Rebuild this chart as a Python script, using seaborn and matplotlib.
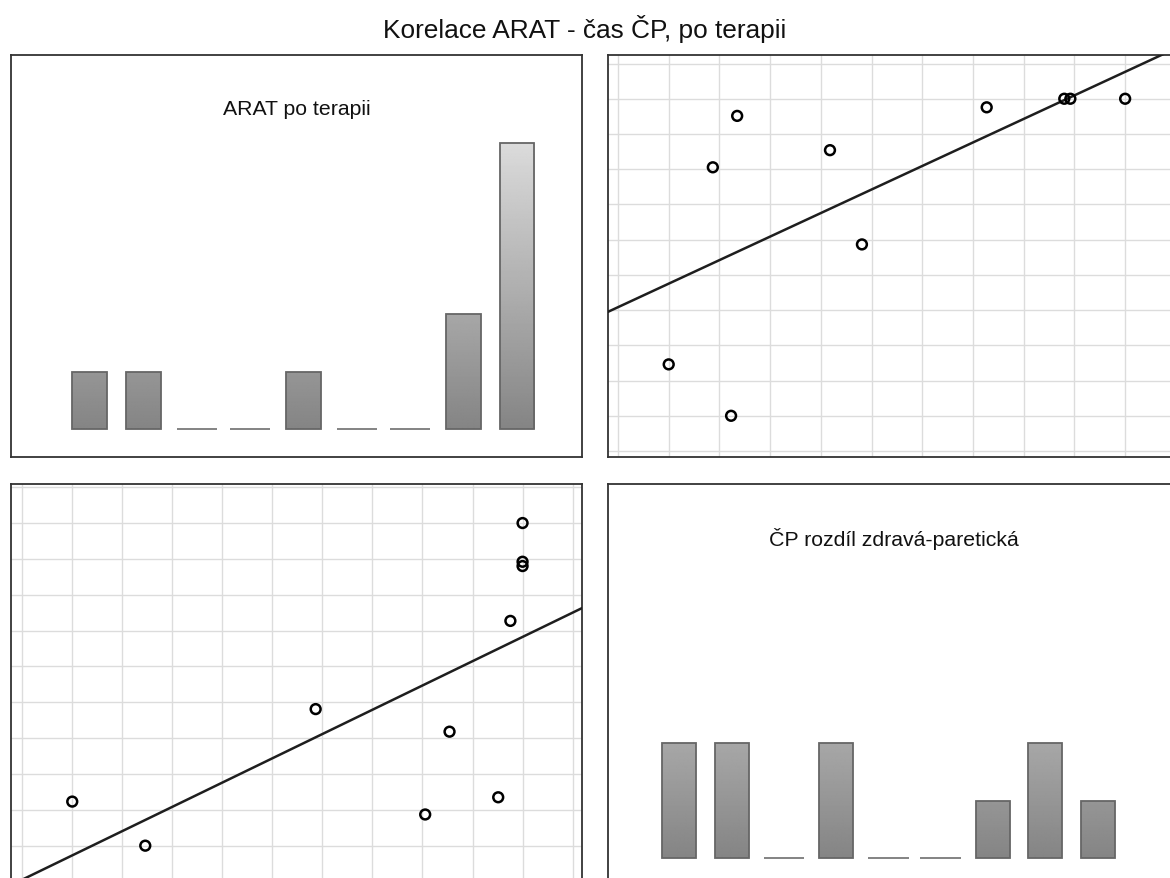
import numpy as np
import matplotlib
matplotlib.use("Agg")
import matplotlib.pyplot as plt
import seaborn as sns

# ---- data ----
arat = [20, 26, 40, 49, 51, 55, 56, 57, 57, 57]          # ARAT po terapii
cp = [9.1, 5.0, 17.7, 7.9, 15.6, 9.5, 25.9, 31.0, 31.4, 35.0]  # ČP rozdíl zdravá-paretická
main_title = "Korelace ARAT - čas ČP, po terapii"
title_arat = "ARAT po terapii"
title_cp = "ČP rozdíl zdravá-paretická"
n_bins = 9

sns.set_theme(style="white")
plt.rcParams["font.family"] = ["Liberation Sans", "DejaVu Sans"]

W, H = 1170, 879
fig = plt.figure(figsize=(W / 100, H / 100), dpi=100)
fig.patch.set_facecolor("white")


def add_ax(x0, y0, w=571, h=402):
    return fig.add_axes([x0 / W, 1 - (y0 + h) / H, w / W, h / H])


ax_tl = add_ax(11, 56)
ax_tr = add_ax(608, 56)
ax_bl = add_ax(11, 485)
ax_br = add_ax(608, 485)


def style_frame(ax):
    for s in ax.spines.values():
        s.set_visible(True)
        s.set_color("#333333")
        s.set_linewidth(1.3)
    ax.tick_params(length=0, labelbottom=False, labelleft=False)
    ax.set_xlabel("")
    ax.set_ylabel("")


def hist_panel(ax, values, title, first_px, step_px, shrink, zero_w):
    values = np.asarray(values, float)
    lo, hi = values.min(), values.max()
    bw = (hi - lo) / n_bins
    sns.histplot(x=values, bins=n_bins, binrange=(lo, hi), shrink=shrink,
                 ax=ax, color="#888888", edgecolor="#666666", linewidth=1.3,
                 alpha=1, zorder=3)
    c0 = lo + bw / 2
    xl = (c0 - first_px / step_px * bw, c0 - first_px / step_px * bw + 571 / step_px * bw)
    yl = (-0.49, 6.53)
    grad = np.linspace(0.52, 0.86, 256).reshape(-1, 1)
    for p in list(ax.patches):
        p.set_facecolor("none")
        if p.get_height() <= 0:
            cx = p.get_x() + p.get_width() / 2
            p.set_width(bw * zero_w)
            p.set_x(cx - bw * zero_w / 2)
            p.set_edgecolor("#7a7a7a")
            continue
        im = ax.imshow(grad, extent=[p.get_x(), p.get_x() + p.get_width(), 0, 5],
                       origin="lower", cmap="gray", vmin=0, vmax=1,
                       aspect="auto", zorder=2, interpolation="bilinear")
        im.set_clip_path(p)
    ax.set_xlim(*xl)
    ax.set_ylim(*yl)
    ax.text(0.5, 0.866, title, transform=ax.transAxes, ha="center",
            va="center", fontsize=15.3, color="#111111")
    style_frame(ax)


def scatter_panel(ax, x, y, xpad, ypad):
    x = np.asarray(x, float)
    y = np.asarray(y, float)
    xr = x.max() - x.min()
    yr = y.max() - y.min()
    ax.set_xlim(x.min() - xpad[0] * xr, x.max() + xpad[1] * xr)
    ax.set_ylim(y.min() - ypad[0] * yr, y.max() + ypad[1] * yr)
    k = np.arange(-1, n_bins + 2)
    ax.set_xticks(x.min() + xr * k / n_bins)
    ax.set_yticks(y.min() + yr * k / n_bins)
    ax.grid(True, color="#dcdcdc", linewidth=1.0, zorder=0)
    ax.set_axisbelow(True)
    sns.regplot(x=x, y=y, ax=ax, ci=None, truncate=False, color="black",
                marker="o",
                scatter_kws=dict(s=50, facecolors="none", edgecolors="black",
                                 linewidths=1.8, alpha=1, zorder=4),
                line_kws=dict(color="#1e1e1e", linewidth=1.8, zorder=3))
    ax.set_xlim(x.min() - xpad[0] * xr, x.max() + xpad[1] * xr)
    ax.set_ylim(y.min() - ypad[0] * yr, y.max() + ypad[1] * yr)
    style_frame(ax)


hist_panel(ax_tl, arat, title_arat, first_px=78.8, step_px=53.4, shrink=0.655, zero_w=0.75)
hist_panel(ax_br, cp, title_cp, first_px=71.3, step_px=52.3, shrink=0.65, zero_w=0.78)
scatter_panel(ax_tr, cp, arat, xpad=(0.133, 0.118), ypad=(0.130, 0.138))
scatter_panel(ax_bl, arat, cp, xpad=(0.136, 0.132), ypad=(0.125, 0.121))

fig.text(0.5, 1 - 29 / H, main_title, ha="center", va="center",
         fontsize=18.9, color="#111111")

fig.savefig("out.png", dpi=100, facecolor="white")
